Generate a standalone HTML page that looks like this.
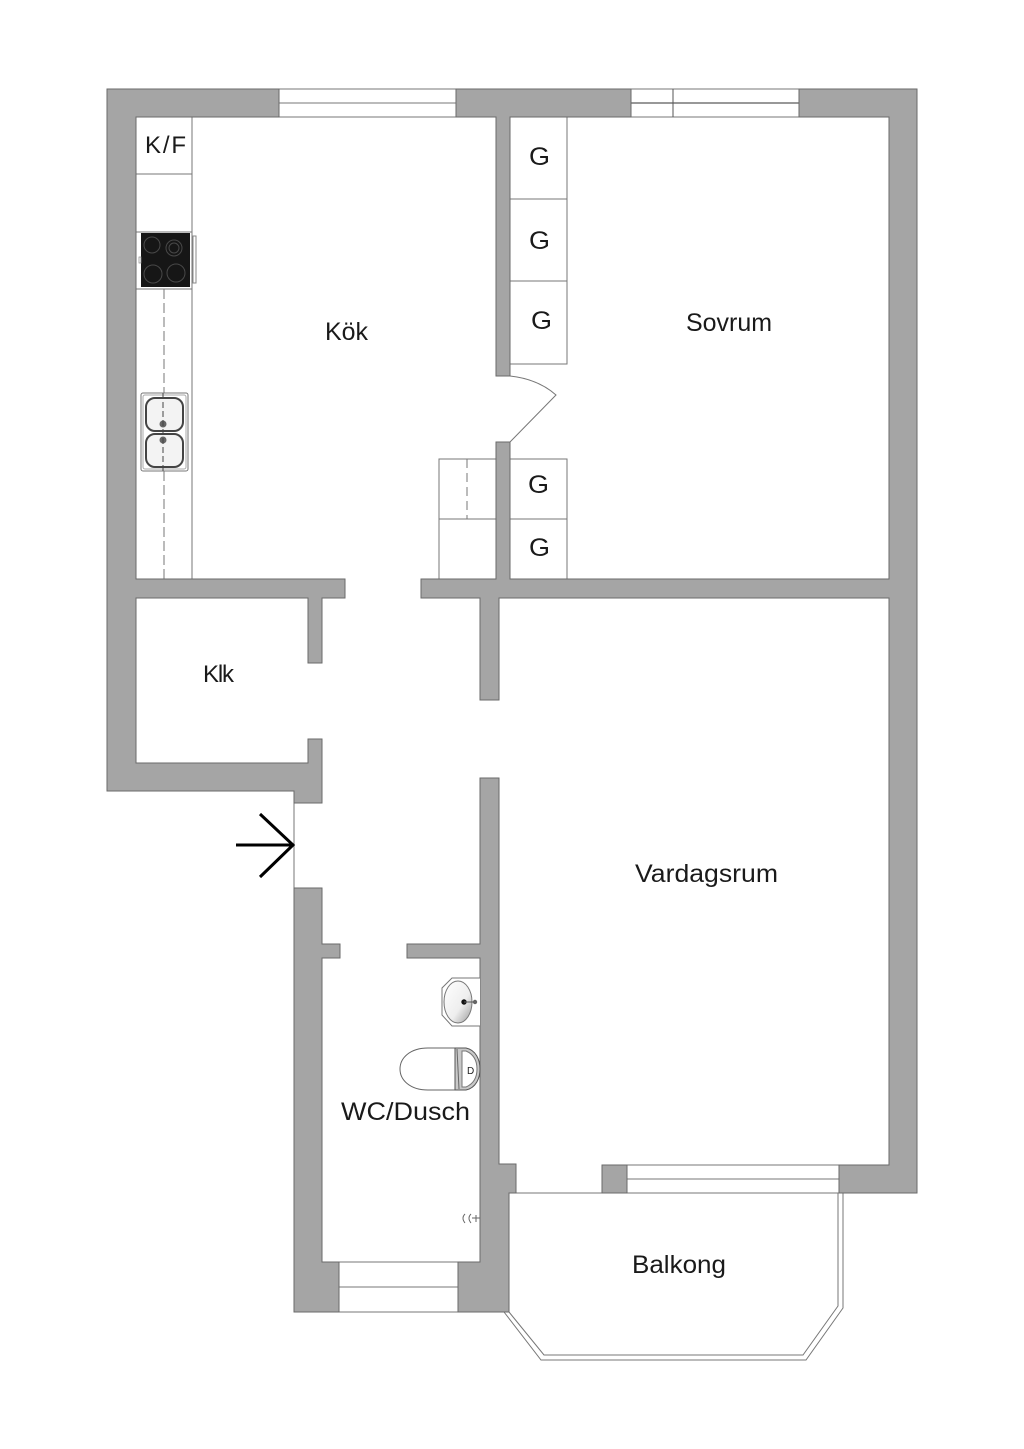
<!DOCTYPE html>
<html><head><meta charset="utf-8"><style>
html,body{margin:0;padding:0;background:#fff}
svg{display:block}
.w{fill:#a5a5a5;stroke:#6a6a6a;stroke-width:1}
.l{fill:none;stroke:#777;stroke-width:1}
.t{font-family:"Liberation Sans",sans-serif;fill:#1a1a1a;font-size:25px}
</style></head><body>
<svg width="1024" height="1449" viewBox="0 0 1024 1449" xmlns="http://www.w3.org/2000/svg">
<rect width="1024" height="1449" fill="#fff"/>
<!-- windows -->
<g class="l">
<rect x="279" y="89" width="177" height="28"/><path d="M279 103H456"/>
<rect x="631" y="89" width="168" height="28"/><path d="M631 103H799" stroke-width="1.5"/><path d="M673 89V117" stroke="#555"/>
<rect x="627" y="1165" width="212" height="28"/><path d="M627 1179H839"/>
<rect x="339" y="1262" width="119" height="50"/><path d="M339 1287H458"/>
<!-- entrance -->
<path d="M294 803V888"/>
<!-- kitchen counter -->
<path d="M136 174H192M192 117V579M136 232H192M136 289H192"/>
<path d="M164 289V579" stroke-dasharray="10 4"/>
<!-- wardrobes -->
<path d="M510 199H567M510 281H567M567 117V364H510M510 459H567V579M510 519H567"/>
<path d="M496 459H439V579M439 519H496"/>
<path d="M467 459V519" stroke-dasharray="9 5"/>
<!-- door -->
<path d="M510 376Q538 379 556 395L510 442"/>
<!-- balcony -->
<path d="M509 1193H843V1308L806 1360H541L504 1312"/>
<path d="M838 1193V1306L803 1355H544L509 1312"/>
</g>
<!-- walls -->
<path class="w" d="M107 89H279V117H136V579H345V598H322V663H308V598H136V763H308V739H322V803H294V791H107Z"/>
<path class="w" d="M456 89H631V117H510V376H496V117H456Z"/>
<path class="w" d="M799 89H917V1193H839V1165H889V598H499V700H480V598H421V579H496V442H510V579H889V117H799Z"/>
<path class="w" d="M294 888H322V944H340V958H322V1262H339V1312H294Z"/>
<path class="w" d="M480 778H499V1164H516V1193H509V1312H458V1262H480V958H407V944H480Z"/>
<rect class="w" x="602" y="1165" width="25" height="28"/>
<!-- stove -->
<rect x="141" y="233" width="49" height="54" fill="#161616"/>
<g fill="none" stroke="#484848" stroke-width="1">
<circle cx="152" cy="245" r="8"/><circle cx="174" cy="248" r="8"/><circle cx="174" cy="248" r="5"/>
<circle cx="153" cy="274" r="9"/><circle cx="176" cy="273" r="9"/>
</g>
<path d="M192 236H196V283H192M193 236V283" fill="none" stroke="#888"/>
<rect x="139" y="257" width="2" height="6" fill="#fff" stroke="#888" stroke-width=".7"/>
<!-- sink -->
<rect x="141" y="393" width="47" height="78" rx="2" fill="#fff" stroke="#777"/>
<rect x="143" y="395" width="43" height="74" rx="2" fill="none" stroke="#aaa"/>
<rect x="146" y="398" width="37" height="33" rx="9" fill="#f3f3f3" stroke="#444" stroke-width="2"/>
<rect x="146" y="434" width="37" height="33" rx="9" fill="#f3f3f3" stroke="#444" stroke-width="2"/>
<circle cx="163" cy="424" r="3.5" fill="#666"/><circle cx="163" cy="440" r="3.5" fill="#666"/>
<path d="M163 393V471" stroke="#444" stroke-dasharray="6 3" fill="none"/>
<!-- wash basin -->
<path d="M480 978H452L442 988V1015L452 1026H480" fill="#fff" stroke="#777"/>
<defs><linearGradient id="b" x1="0" y1="0" x2="1" y2="1"><stop offset="0" stop-color="#fff"/><stop offset=".6" stop-color="#eee"/><stop offset="1" stop-color="#999"/></linearGradient></defs>
<ellipse cx="458" cy="1002" rx="14" ry="21" fill="url(#b)" stroke="#777"/>
<circle cx="464" cy="1002" r="2.7" fill="#111"/><path d="M464 1002H475" stroke="#555"/><circle cx="475" cy="1002" r="2.2" fill="#666"/>
<!-- toilet -->
<path d="M455 1048H428C410 1048 400 1058 400 1069C400 1080 410 1090 428 1090H455Z" fill="#fff" stroke="#666"/>
<path d="M455 1048H466C476 1050 480 1060 480 1069C480 1078 476 1088 466 1090H455Z" fill="#c9c9c9" stroke="#555"/>
<path d="M462 1051H466C473 1054 477 1060 477 1069C477 1078 473 1084 466 1087H462Z" fill="#fff" stroke="#777"/>
<path d="M457 1049L459 1089" stroke="#666" fill="none"/>
<text x="467" y="1074" font-family="Liberation Sans,sans-serif" font-size="10" fill="#222">D</text>
<!-- shower tap -->
<path d="M465 1214Q461 1218 465 1223M471 1214Q467 1218 471 1223M472 1218H480M476 1215V1222" fill="none" stroke="#666"/>
<!-- arrow -->
<path d="M236 845H293M260 814L293 845L260 877" fill="none" stroke="#000" stroke-width="3"/>
<!-- labels -->
<text class="t" x="145" y="153" textLength="41" lengthAdjust="spacing" style="font-size:24px">K/F</text>
<text class="t" x="529" y="165" textLength="21" lengthAdjust="spacingAndGlyphs">G</text>
<text class="t" x="529" y="249" textLength="21" lengthAdjust="spacingAndGlyphs">G</text>
<text class="t" x="531" y="329" textLength="21" lengthAdjust="spacingAndGlyphs">G</text>
<text class="t" x="528" y="493" textLength="21" lengthAdjust="spacingAndGlyphs">G</text>
<text class="t" x="529" y="556" textLength="21" lengthAdjust="spacingAndGlyphs">G</text>
<text class="t" x="325" y="340" textLength="43" lengthAdjust="spacingAndGlyphs">Kök</text>
<text class="t" x="686" y="331" textLength="86" lengthAdjust="spacingAndGlyphs">Sovrum</text>
<text class="t" x="203" y="682" textLength="31" lengthAdjust="spacing" style="font-size:24px">Klk</text>
<text class="t" x="635" y="882" textLength="143" lengthAdjust="spacingAndGlyphs">Vardagsrum</text>
<text class="t" x="341" y="1120" textLength="129" lengthAdjust="spacingAndGlyphs">WC/Dusch</text>
<text class="t" x="632" y="1273" textLength="94" lengthAdjust="spacingAndGlyphs">Balkong</text>
</svg>
</body></html>
